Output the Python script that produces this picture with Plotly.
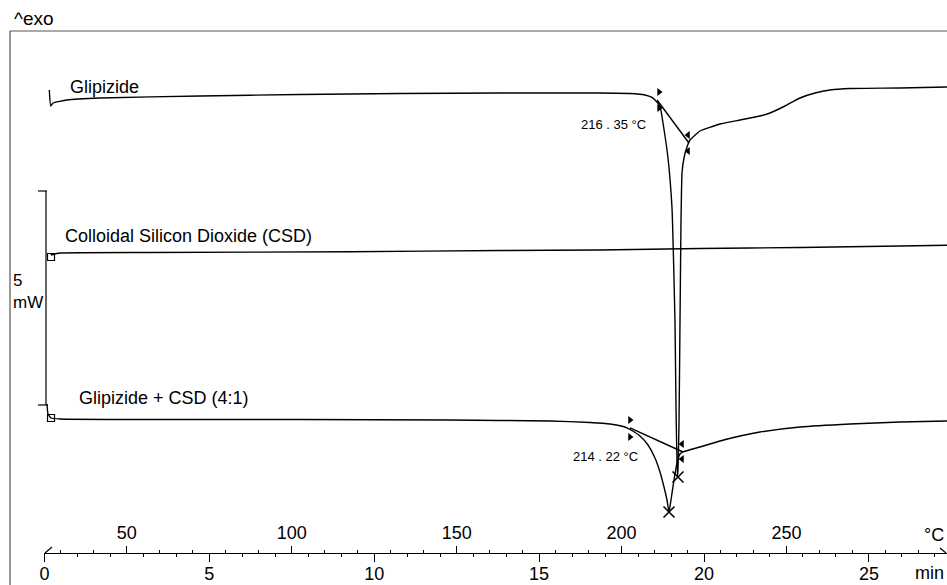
import plotly.graph_objects as go

# ---------------- data (temperature °C, heat flow mW, arbitrary offsets) ----------------
glip_T = [26.49, 26.91, 27.61, 31.85, 41.86, 72.18, 102.50, 132.82, 163.15, 193.47, 202.56,
          207.11, 209.23, 210.14, 211.66, 212.57, 214.08, 215.30, 215.75, 216.21, 216.51,
          216.90, 217.11, 217.42, 217.72, 218.02, 218.33, 218.93, 219.84, 220.75, 223.78,
          229.85, 235.91, 241.98, 245.01, 249.56, 254.11, 258.66, 263.21, 269.27, 284.43, 298.68]
glip_mW = [10.818, 10.444, 10.514, 10.584, 10.631, 10.678, 10.713, 10.736, 10.748, 10.748, 10.736,
           10.701, 10.643, 10.584, 10.444, 10.047, 9.229, 8.061, 6.893, 5.374, 3.434,
           1.776, 1.939, 3.037, 5.374, 7.710, 8.879, 9.229, 9.486, 9.650, 9.860,
           10.023, 10.117, 10.210, 10.280, 10.444, 10.631, 10.748, 10.818, 10.853, 10.864, 10.888]

csd_T = [26.91, 29.73, 57.02, 117.66, 163.15, 193.47, 223.78, 254.11, 284.43, 298.68]
csd_mW = [6.963, 7.009, 7.021, 7.040, 7.068, 7.079, 7.114, 7.138, 7.173, 7.192]

mix_T = [25.79, 26.09, 27.00, 29.73, 57.02, 102.50, 147.98, 178.30, 190.43, 196.49, 201.04,
         202.86, 205.59, 208.02, 210.14, 211.66, 212.87, 213.78, 214.39, 214.99, 215.90,
         216.81, 217.72, 218.63, 223.78, 229.85, 235.91, 241.98, 254.11, 269.27, 284.43, 298.68]
mix_mW = [3.481, 3.248, 3.154, 3.131, 3.119, 3.119, 3.107, 3.084, 3.049, 3.014, 2.944,
          2.874, 2.734, 2.523, 2.220, 1.893, 1.542, 1.238, 0.958, 1.238, 1.706,
          2.103, 2.313, 2.360, 2.477, 2.617, 2.734, 2.827, 2.944, 3.014, 3.061, 3.084]

# onset tangent constructions
glip_tan_T = [210.77, 220.44]
glip_tan_mW = [10.584, 9.579]
mix_tan_T = [202.56, 218.63]
mix_tan_mW = [2.921, 2.360]

# integration limit flags
flag_right_T = [211.37, 211.37, 202.56, 202.56]
flag_right_mW = [10.771, 10.397, 3.107, 2.710]
flag_left_T = [220.14, 220.14, 218.33, 218.33]
flag_left_mW = [9.766, 9.393, 2.547, 2.196]

# peak markers
peak_T = [214.39, 217.11]
peak_mW = [0.958, 1.776]

# start markers
start_T = [27.0, 27.0]
start_mW = [6.916, 3.154]

onset_labels = ["216 . 35 °C", "214 . 22 °C"]
onset_T = [208.0, 205.6]
onset_mW = [10.023, 2.266]

series_labels = ["Glipizide", "Colloidal Silicon Dioxide (CSD)", "Glipizide + CSD (4:1)"]
series_label_T = [32.16, 30.64, 34.89]
series_label_mW = [10.888, 7.407, 3.621]

time_ticks_dtick = 5
temp_ticks_dtick = 50
T_START = 25.0      # °C at 0 min
RATE = 10.0         # °C / min
SCALE_MW = 5
SCALE_BOTTOM = 3.458

# ---------------- layout geometry ----------------
W, H = 947, 585
x0_px = 44.4
px_per_min = 32.98
axis_y_px = 553
px_per_mW = 42.8
t_max = (W - x0_px) / px_per_min
y_lo = (axis_y_px - H) / px_per_mW
y_hi = axis_y_px / px_per_mW
ax_pos = 1 - axis_y_px / H
x_domain = [x0_px / W, 1]

FONT = "Liberation Sans, Arial, Helvetica, sans-serif"
LW = 1.4

fig = go.Figure()
common = dict(xaxis="x2", yaxis="y", showlegend=False, hoverinfo="skip")

# empty trace so that the time axis (x) belongs to a subplot and is drawn
fig.add_trace(go.Scatter(x=[], y=[], xaxis="x", yaxis="y", mode="lines",
                         showlegend=False, hoverinfo="skip"))

for T, Y in [(glip_T, glip_mW), (csd_T, csd_mW), (mix_T, mix_mW)]:
    fig.add_trace(go.Scatter(x=T, y=Y, mode="lines",
                             line=dict(color="black", width=LW, shape="spline", smoothing=0.4),
                             **common))
for T, Y in [(glip_tan_T, glip_tan_mW), (mix_tan_T, mix_tan_mW)]:
    fig.add_trace(go.Scatter(x=T, y=Y, mode="lines", line=dict(color="black", width=LW), **common))

fig.add_trace(go.Scatter(x=flag_right_T, y=flag_right_mW, mode="markers",
                         marker=dict(symbol="triangle-right", size=7, color="black"), **common))
fig.add_trace(go.Scatter(x=flag_left_T, y=flag_left_mW, mode="markers",
                         marker=dict(symbol="triangle-left", size=7, color="black"), **common))
fig.add_trace(go.Scatter(x=peak_T, y=peak_mW, mode="markers",
                         marker=dict(symbol="x-thin", size=11, line=dict(color="black", width=1.5)),
                         **common))
fig.add_trace(go.Scatter(x=start_T, y=start_mW, mode="markers",
                         marker=dict(symbol="square-open", size=7, color="black",
                                     line=dict(width=1.2)), **common))

annotations = []
for txt, T, Y in zip(series_labels, series_label_T, series_label_mW):
    annotations.append(dict(x=T, y=Y, xref="x2", yref="y", text=txt, showarrow=False,
                            xanchor="left", yanchor="middle", font=dict(size=18, family=FONT, color="black")))
for txt, T, Y in zip(onset_labels, onset_T, onset_mW):
    annotations.append(dict(x=T, y=Y, xref="x2", yref="y", text=txt, showarrow=False,
                            xanchor="right", yanchor="middle", font=dict(size=13, family=FONT, color="black")))
annotations += [
    dict(x=12 / W, y=1 - 18 / H, xref="paper", yref="paper", text="^exo", showarrow=False,
         xanchor="left", yanchor="middle", font=dict(size=19, family=FONT, color="black")),
    dict(x=11 / W, y=1 - 291 / H, xref="paper", yref="paper", text="5<br>mW", showarrow=False,
         xanchor="left", yanchor="middle", align="left",
         font=dict(size=17, family=FONT, color="black")),
    dict(x=946 / W, y=1 - 535 / H, xref="paper", yref="paper", text="°C", showarrow=False,
         xanchor="right", yanchor="middle", font=dict(size=18, family=FONT, color="black")),
    dict(x=946 / W, y=1 - 573 / H, xref="paper", yref="paper", text="min", showarrow=False,
         xanchor="right", yanchor="middle", font=dict(size=18, family=FONT, color="black")),
]

shapes = [
    # frame
    dict(type="line", xref="paper", yref="paper", x0=10 / W, x1=1, y0=1 - 31 / H, y1=1 - 31 / H,
         line=dict(color="#555", width=1)),
    dict(type="line", xref="paper", yref="paper", x0=10 / W, x1=10 / W, y0=0, y1=1 - 31 / H,
         line=dict(color="#333", width=1)),
    # 5 mW scale bar
    dict(type="line", xref="paper", yref="y", x0=46 / W, x1=46 / W, y0=SCALE_BOTTOM,
         y1=SCALE_BOTTOM + SCALE_MW, line=dict(color="black", width=1.2)),
    dict(type="line", xref="paper", yref="y", x0=38 / W, x1=47 / W, y0=SCALE_BOTTOM + SCALE_MW,
         y1=SCALE_BOTTOM + SCALE_MW, line=dict(color="black", width=1.2)),
    dict(type="line", xref="paper", yref="y", x0=38 / W, x1=48 / W, y0=SCALE_BOTTOM,
         y1=SCALE_BOTTOM, line=dict(color="black", width=1.2)),
    # axis end marks
    dict(type="line", xref="paper", yref="paper", x0=45 / W, x1=52 / W, y0=1 - 553 / H, y1=1 - 547 / H,
         line=dict(color="black", width=1.2)),
    dict(type="line", xref="paper", yref="paper", x0=940 / W, x1=946 / W, y0=1 - 548 / H, y1=1 - 553 / H,
         line=dict(color="black", width=1.2)),
]

fig.update_layout(
    width=W, height=H, margin=dict(l=0, r=0, t=0, b=0, pad=0, autoexpand=False),
    paper_bgcolor="white", plot_bgcolor="white",
    font=dict(family=FONT, size=18, color="black"),
    xaxis=dict(domain=x_domain, range=[0, t_max], anchor="free", position=ax_pos,
               side="bottom", tickmode="linear", tick0=0, dtick=time_ticks_dtick,
               ticks="outside", ticklen=8, tickwidth=1.2, tickcolor="black", automargin=False,
               ticklabelstandoff=-4,
               minor=dict(tick0=0, dtick=1, ticks="outside", ticklen=3, tickcolor="black", tickwidth=1),
               showline=True, linecolor="black", linewidth=1.2, showgrid=False, zeroline=False,
               tickfont=dict(size=18, family=FONT, color="black")),
    xaxis2=dict(domain=x_domain, overlaying="x", range=[T_START, T_START + RATE * t_max], anchor="free",
                position=ax_pos, side="top", tickmode="linear", tick0=0, dtick=temp_ticks_dtick,
                ticks="outside", ticklen=7, tickwidth=1.2, tickcolor="black", automargin=False,
                minor=dict(tick0=0, dtick=10, ticks="outside", ticklen=3, tickcolor="black", tickwidth=1),
                showline=False, showgrid=False, zeroline=False,
                tickfont=dict(size=18, family=FONT, color="black")),
    yaxis=dict(domain=[0, 1], range=[y_lo, y_hi], visible=False, automargin=False),
    annotations=annotations, shapes=shapes,
)

fig.write_html("out.html", config={"displayModeBar": False})

# remove the default page margin so the figure sits at the window's top-left corner
with open("out.html", "r", encoding="utf-8") as f:
    html = f.read()
html = html.replace("<head>", "<head><style>html,body{margin:0;padding:0;overflow:hidden;}</style>", 1)
with open("out.html", "w", encoding="utf-8") as f:
    f.write(html)
